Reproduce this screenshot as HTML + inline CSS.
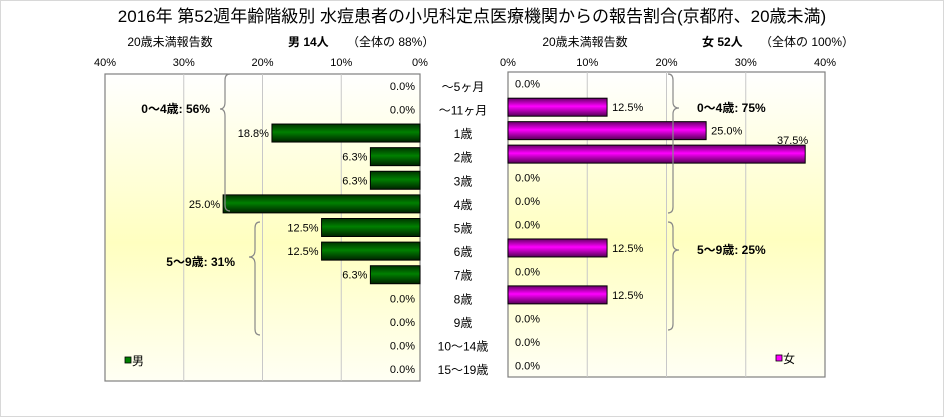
<!DOCTYPE html>
<html><head><meta charset="utf-8">
<style>
html,body{margin:0;padding:0;background:#fff;}
svg{display:block;font-family:"Liberation Sans","Noto Sans CJK JP",sans-serif;}
</style></head>
<body>
<svg id="chart" width="944" height="417" viewBox="0 0 944 417" xmlns="http://www.w3.org/2000/svg">
<defs>
<linearGradient id="bgL" x1="0" y1="0" x2="0" y2="1">
<stop offset="0" stop-color="#ffffff"/><stop offset="0.55" stop-color="#ffffc0"/><stop offset="1" stop-color="#fffff4"/>
</linearGradient>
<linearGradient id="gG" x1="0" y1="0" x2="0" y2="1">
<stop offset="0" stop-color="#003300"/><stop offset="0.45" stop-color="#008000"/><stop offset="1" stop-color="#002200"/>
</linearGradient>
<linearGradient id="gM" x1="0" y1="0" x2="0" y2="1">
<stop offset="0" stop-color="#660066"/><stop offset="0.45" stop-color="#ff00ff"/><stop offset="1" stop-color="#550055"/>
</linearGradient>
</defs>
<rect x="0" y="0" width="944" height="417" fill="#fff"/>
<rect x="0.5" y="0.5" width="943" height="416" fill="none" stroke="#d8d8d8"/>
<text x="472" y="22" font-size="17" text-anchor="middle">2016年 第52週年齢階級別 水痘患者の小児科定点医療機関からの報告割合(京都府、20歳未満)</text>

<text x="170" y="46" font-size="12" text-anchor="middle">20歳未満報告数</text>
<text x="288" y="46" font-size="12" font-weight="bold">男  14人</text>
<text x="347" y="46" font-size="12">（全体の  88%）</text>
<text x="585" y="46" font-size="12" text-anchor="middle">20歳未満報告数</text>
<text x="702" y="46" font-size="12" font-weight="bold">女  52人</text>
<text x="760" y="46" font-size="12">（全体の  100%）</text>

<g id="plots"></g>

<g fill="none" stroke="#888" stroke-width="1.2">
<path d="M230 74 Q225 74 225 80 L225 102 Q225 109 220 109 Q225 109 225 116 L225 205 Q225 211 230 211"/>
</g>
<text x="210" y="113" font-size="12" font-weight="bold" text-anchor="end">0〜4歳: 56%</text>
<g fill="none" stroke="#888" stroke-width="1.2">
<path d="M260 222 Q255 222 255 228 L255 250 Q255 257 249 257 Q255 257 255 264 L255 329 Q255 335 260 335"/>
</g>
<text x="235" y="266" font-size="12" font-weight="bold" text-anchor="end">5〜9歳: 31%</text>
<g fill="none" stroke="#888" stroke-width="1.2">
<path d="M668 74 Q673 74 673 80 L673 102 Q673 108 679 108 Q673 108 673 114 L673 207 Q673 213 668 213"/>
</g>
<text x="697" y="112" font-size="12" font-weight="bold">0〜4歳: 75%</text>
<g fill="none" stroke="#888" stroke-width="1.2">
<path d="M668 222 Q673 222 673 228 L673 244 Q673 250 679 250 Q673 250 673 256 L673 324 Q673 330 668 330"/>
</g>
<text x="697" y="254" font-size="12" font-weight="bold">5〜9歳: 25%</text>

<rect x="125" y="357" width="6" height="6" fill="#008000" stroke="#000" stroke-width="0.8"/>
<text x="132" y="365" font-size="12">男</text>
<rect x="776" y="355" width="6" height="6" fill="#ff00ff" stroke="#000" stroke-width="0.8"/>
<text x="783" y="363" font-size="12">女</text>
</svg>
<script>
const categories = ["〜5ヶ月","〜11ヶ月","1歳","2歳","3歳","4歳","5歳","6歳","7歳","8歳","9歳","10〜14歳","15〜19歳"];
const maleValues = [0, 0, 18.8, 6.3, 6.3, 25.0, 12.5, 12.5, 6.3, 0, 0, 0, 0];
const femaleValues = [0, 12.5, 25.0, 37.5, 0, 0, 0, 12.5, 0, 12.5, 0, 0, 0];
const tickValues = [0, 10, 20, 30, 40];

const NS = "http://www.w3.org/2000/svg";
const root = document.getElementById("plots");
function mk(tag, attrs, parent){
  const e = document.createElementNS(NS, tag);
  for (const k in attrs) e.setAttribute(k, attrs[k]);
  (parent||root).appendChild(e);
  return e;
}
// male axis: 0% at 420, 40% at 105 ; female axis: 0% at 508, 40% at 825
const L = {x0:420, x40:105, top:74, bottom:381};
const R = {x0:508, x40:825, top:72, bottom:377};
function xL(v){ return L.x0 + (L.x40 - L.x0) * v / 40; }
function xR(v){ return R.x0 + (R.x40 - R.x0) * v / 40; }
function rowY(p, i){ const h=(p.bottom-p.top)/categories.length; return p.top + h*(i+0.5); }

// backgrounds
let bg = mk("rect",{x:L.x40,y:L.top,width:L.x0-L.x40,height:L.bottom-L.top,fill:"url(#bgL)",stroke:"#808080","stroke-width":1.2});


bg = mk("rect",{x:R.x0,y:R.top,width:R.x40-R.x0,height:R.bottom-R.top,fill:"url(#bgL)",stroke:"#808080","stroke-width":1.2});



tickValues.forEach(t => {
  if (t>0 && t<40) {
    let g = mk("line",{x1:xL(t),x2:xL(t),y1:L.top,y2:L.bottom,stroke:"#c8c8c8"});
    
    
    g = mk("line",{x1:xR(t),x2:xR(t),y1:R.top,y2:R.bottom,stroke:"#c8c8c8"});
    
    
  }
  let tl = mk("text",{x:xL(t),y:66,"font-size":11,"text-anchor":"middle"});
  tl.textContent = t + "%";
  
  
  tl = mk("text",{x:xR(t),y:66,"font-size":11,"text-anchor":"middle"});
  tl.textContent = t + "%";
  
  
});

const barH = 18;
categories.forEach((c, i) => {
  const cy = rowY(L, i);
  const cl = mk("text",{x:463,y:cy+5,"font-size":12,"text-anchor":"middle"});
  cl.textContent = c;
  
  

  const mv = maleValues[i];
  if (mv > 0) {
    const b = mk("rect",{x:xL(mv),y:cy-barH/2,width:L.x0-xL(mv),height:barH,fill:"url(#gG)",stroke:"#000","stroke-width":1});
    
    
  }
  const ml = mk("text",{x:(mv>0? xL(mv)-3 : L.x0-5),y:cy+4,"font-size":11,"text-anchor":"end"});
  ml.textContent = mv.toFixed(1) + "%";
  
  

  const fy = rowY(R, i);
  const fv = femaleValues[i];
  if (fv > 0) {
    const b = mk("rect",{x:R.x0,y:fy-barH/2,width:xR(fv)-R.x0,height:barH,fill:"url(#gM)",stroke:"#000","stroke-width":1});
    
    
  }
  let fx = fv>0 ? xR(fv)+5 : R.x0+7, anchor = "start", ly = fy+4;
  if (fx + 34 > R.x40) { fx = xR(fv)+3; anchor = "end"; ly = fy-10; }
  const fl = mk("text",{x:fx,y:ly,"font-size":11,"text-anchor":anchor});
  fl.textContent = fv.toFixed(1) + "%";
  
  
});
</script>
</body></html>
